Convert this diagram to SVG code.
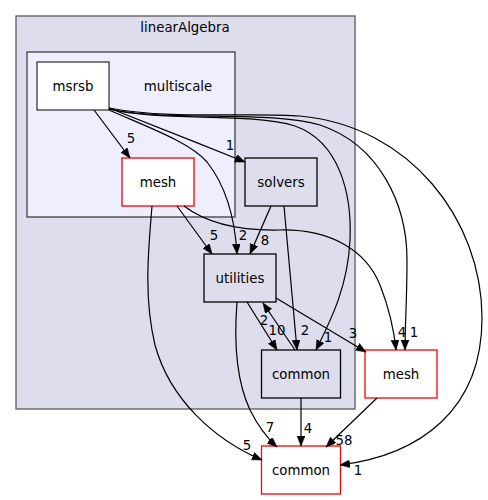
<svg xmlns="http://www.w3.org/2000/svg" width="488" height="500" viewBox="0 0 488 500">
<style>
text{font-family:"DejaVu Sans","Liberation Sans",sans-serif;font-size:13.33px;fill:#000;text-anchor:middle}
.cl1{fill:#ddddee;stroke:#5a5a5a;stroke-width:1.3}
.cl2{fill:#eeeeff;stroke:#404040;stroke-width:1.3}
.nw{fill:#ffffff;stroke:#000;stroke-width:1}
.nr{fill:#ffffff;stroke:#ff0000;stroke-width:1.3}
.nd{fill:#ddddee;stroke:#000;stroke-width:1.3}
.e path{fill:none;stroke:#000;stroke-width:1.2;marker-end:url(#ah)}
</style>
<defs>
<marker id="ah" markerUnits="userSpaceOnUse" markerWidth="11" markerHeight="9" refX="10" refY="4" orient="auto">
<path d="M0,0 L10,4 L0,8 z" fill="#000" stroke="#000" stroke-width="0.5"/>
</marker>
</defs>
<g id="cluster_linearAlgebra">
<rect class="cl1" x="16" y="16" width="339" height="393"/>
<text x="185" y="32">linearAlgebra</text>
</g>
<g id="cluster_multiscale">
<rect class="cl2" x="27" y="52" width="208" height="165"/>
<text x="178" y="91">multiscale</text>
</g>
<g id="node_msrsb"><rect class="nw" x="37" y="62" width="72" height="48"/><text x="73" y="91">msrsb</text></g>
<g id="node_mesh_inner"><rect class="nr" x="122" y="158" width="72" height="48"/><text x="158" y="187">mesh</text></g>
<g id="node_solvers"><rect class="nd" x="245" y="158" width="72" height="48"/><text x="281" y="187">solvers</text></g>
<g id="node_utilities"><rect class="nd" x="204" y="254" width="72" height="48"/><text x="240" y="283">utilities</text></g>
<g id="node_common_inner"><rect class="nd" x="261.5" y="350" width="79" height="48"/><text x="301" y="379">common</text></g>
<g id="node_mesh_outer"><rect class="nr" x="365" y="350" width="72" height="48"/><text x="401" y="379">mesh</text></g>
<g id="node_common_outer"><rect class="nr" x="261.5" y="446" width="79" height="48"/><text x="301" y="475">common</text></g>
<g id="connectors" class="e">
<path d="M94,110 L130,158"/>
<path d="M109,108 C150,124 200,144 245,162"/>
<path d="M109,110 C145,126 190,142 207,162 C226,186 235,220 237,254"/>
<path d="M109,109 C160,122 250,112 295,126 C340,142 352,195 350,240 C348,285 332,318 316,350"/>
<path d="M109,109 C170,122 270,110 320,125 C380,145 407,205 407,260 C407,300 405,325 405,350"/>
<path d="M109,108 C170,120 250,112 300,116 C410,126 482,220 482,318 C482,410 420,455 340,465"/>
<path d="M177,206 L212,254"/>
<path d="M184,206 C205,222 235,231 280,230 C330,229 366,250 380,285 C389,308 394,330 396,350"/>
<path d="M152,206 C149,245 143,295 155,345 C170,400 215,440 262,460"/>
<path d="M271,206 L250,254"/>
<path d="M284,206 L297,350"/>
<path d="M247,302 L277,350"/>
<path d="M295,350 L263,303"/>
<path d="M276,298 L366,352"/>
<path d="M237,302 C234,340 236,380 250,410 C258,426 266,437 277,447"/>
<path d="M301,398 L301,446"/>
<path d="M377,398 L326,447"/>
<text x="131" y="143">5</text>
<text x="230" y="150">1</text>
<text x="243" y="240">2</text>
<text x="328" y="342">1</text>
<text x="414" y="337">1</text>
<text x="358" y="475">1</text>
<text x="214" y="240">5</text>
<text x="402" y="337">4</text>
<text x="247" y="450">5</text>
<text x="265" y="245">8</text>
<text x="305" y="335">2</text>
<text x="277" y="335">10</text>
<text x="264" y="325">2</text>
<text x="353" y="338">3</text>
<text x="270" y="432">7</text>
<text x="308" y="433">4</text>
<text x="344" y="445">58</text>
</g>
</svg>
